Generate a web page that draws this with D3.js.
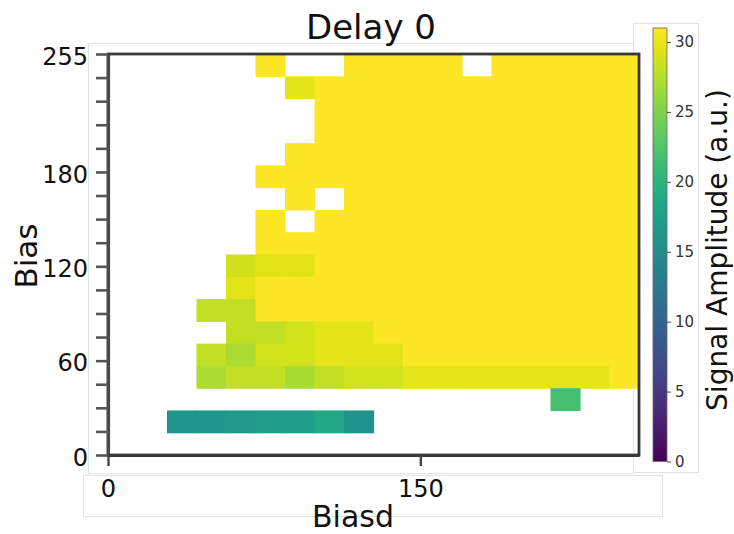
<!DOCTYPE html>
<html>
<head>
<meta charset="utf-8">
<script src="https://cdn.jsdelivr.net/npm/d3@7"></script>
<style>
  html, body { margin: 0; padding: 0; background: #fff; }
  svg { display: block; font-family: "DejaVu Sans", sans-serif; }
</style>
</head>
<body>
<svg id="chart" width="734" height="534"></svg>
<script>
// Biasd settings along the columns (left to right)
const biasd = [0, 15, 30, 45, 60, 75, 90, 105, 120, 135, 150, 165, 180, 195, 210, 225, 240, 255];
// Bias settings along the rows (top to bottom)
const bias = [255, 240, 225, 210, 195, 180, 165, 150, 135, 120, 105, 90, 75, 60, 45, 30, 15, 0];

// Signal amplitude per (bias, biasd); null = no signal recorded
const N = null;
const amplitude = [
  [N, N, N, N, N, 31, N, N, 31, 31, 31, 31, N, 31, 31, 31, 31, 31],
  [N, N, N, N, N, N, 29.7, 31, 31, 31, 31, 31, 31, 31, 31, 31, 31, 31],
  [N, N, N, N, N, N, N, 31, 31, 31, 31, 31, 31, 31, 31, 31, 31, 31],
  [N, N, N, N, N, N, N, 31, 31, 31, 31, 31, 31, 31, 31, 31, 31, 31],
  [N, N, N, N, N, N, 31, 31, 31, 31, 31, 31, 31, 31, 31, 31, 31, 31],
  [N, N, N, N, N, 31, 31, 31, 31, 31, 31, 31, 31, 31, 31, 31, 31, 31],
  [N, N, N, N, N, N, 31, N, 31, 31, 31, 31, 31, 31, 31, 31, 31, 31],
  [N, N, N, N, N, 31, N, 31, 31, 31, 31, 31, 31, 31, 31, 31, 31, 31],
  [N, N, N, N, N, 31, 31, 31, 31, 31, 31, 31, 31, 31, 31, 31, 31, 31],
  [N, N, N, N, 28.8, 29.6, 29.6, 31, 31, 31, 31, 31, 31, 31, 31, 31, 31, 31],
  [N, N, N, N, 29.6, 31, 31, 31, 31, 31, 31, 31, 31, 31, 31, 31, 31, 31],
  [N, N, N, 28.2, 28.2, 31, 31, 31, 31, 31, 31, 31, 31, 31, 31, 31, 31, 31],
  [N, N, N, N, 28.2, 28.2, 28.9, 29.7, 29.7, 31, 31, 31, 31, 31, 31, 31, 31, 31],
  [N, N, N, 28.2, 27.1, 28.9, 28.9, 29.7, 29.7, 29.7, 31, 31, 31, 31, 31, 31, 31, 31],
  [N, N, N, 27.1, 28.2, 28.2, 27.0, 28.2, 28.9, 28.9, 29.8, 29.8, 29.8, 29.8, 29.8, 29.8, 29.8, 31],
  [N, N, N, N, N, N, N, N, N, N, N, N, N, N, N, 21.9, N, N],
  [N, N, 16.2, 16.2, 16.5, 17.2, 17.2, 18.6, 15.8, N, N, N, N, N, N, N, N, N],
  [N, N, N, N, N, N, N, N, N, N, N, N, N, N, N, N, N, N]
];

const yTickLabels = [0, 60, 120, 180, 255];
const xTickLabels = [0, 150];
const colorTicks = [0, 5, 10, 15, 20, 25, 30];
const colorMax = 31;

const svg = d3.select("#chart");
svg.append("rect").attr("width", 734).attr("height", 534).attr("fill", "#fff");

// Light panel outlines around figure pieces
const faint = "#e3e3e3";
svg.append("rect").attr("x", 88.5).attr("y", 43.5).attr("width", 545).attr("height", 430)
  .attr("fill", "#fff").attr("stroke", faint);
svg.append("rect").attr("x", 633.5).attr("y", 23.5).attr("width", 65).attr("height", 449)
  .attr("fill", "#fff").attr("stroke", faint);
svg.append("rect").attr("x", 83.5).attr("y", 475.5).attr("width", 579).attr("height", 41)
  .attr("fill", "#fff").attr("stroke", faint);

const plot = { left: 108, right: 639, top: 54, bottom: 455 };
const x = d3.scaleLinear().domain([0, 255]).range([plot.left, plot.right]);
const y = d3.scaleLinear().domain([0, 255]).range([plot.bottom, plot.top]);
const xBand = d3.scaleBand().domain(biasd).range([x(0), x(255)]);
const yBand = d3.scaleBand().domain(bias).range([y(255), y(0)]);
const color = d3.scaleSequential(d3.interpolateViridis).domain([0, colorMax]).clamp(true);

const cells = [];
amplitude.forEach((row, r) => row.forEach((v, c) => {
  if (v !== null) cells.push({ b: bias[r], bd: biasd[c], v });
}));

svg.append("g").selectAll("rect").data(cells).join("rect")
  .attr("x", d => xBand(d.bd))
  .attr("y", d => yBand(d.b))
  .attr("width", xBand.bandwidth() + 0.6)
  .attr("height", yBand.bandwidth() + 0.6)
  .attr("fill", d => color(d.v));

// Frame
svg.append("rect")
  .attr("x", plot.left).attr("y", plot.top)
  .attr("width", plot.right - plot.left).attr("height", plot.bottom - plot.top)
  .attr("fill", "none").attr("stroke", "#383838").attr("stroke-width", 2.8);

// Y axis: minor ticks every 15, labels at selected values
const yAxis = d3.axisLeft(y)
  .tickValues(d3.range(0, 256, 15))
  .tickSize(12).tickSizeOuter(0).tickPadding(8)
  .tickFormat(d => yTickLabels.includes(d) ? d : "");
const gy = svg.append("g").attr("transform", `translate(${plot.left},0)`).call(yAxis);
gy.select(".domain").attr("stroke", "#4a4a4a").attr("stroke-width", 3.2);
gy.selectAll(".tick line").attr("stroke", "#555").attr("stroke-width", 2.6);
gy.selectAll(".tick text").attr("font-size", 24).attr("fill", "#111")
  .attr("font-family", "DejaVu Sans").attr("dy", "0.42em");

// X axis
const xAxis = d3.axisBottom(x).tickValues(xTickLabels)
  .tickSize(11).tickSizeOuter(0).tickPadding(14);
const gx = svg.append("g").attr("transform", `translate(0,${plot.bottom})`).call(xAxis);
gx.select(".domain").attr("stroke", "#383838").attr("stroke-width", 2.8);
gx.selectAll(".tick line").attr("stroke", "#444").attr("stroke-width", 2.4);
gx.selectAll(".tick text").attr("font-size", 24).attr("fill", "#111")
  .attr("font-family", "DejaVu Sans");

// Titles
svg.append("text").attr("x", 371).attr("y", 39).attr("text-anchor", "middle")
  .attr("font-size", 34).attr("fill", "#111").text("Delay 0");
svg.append("text").attr("transform", "translate(37,256) rotate(-90)")
  .attr("text-anchor", "middle").attr("font-size", 31).attr("fill", "#111").text("Bias");
svg.append("text").attr("x", 353).attr("y", 527).attr("text-anchor", "middle")
  .attr("font-size", 30).attr("fill", "#111").text("Biasd");

// Colorbar
const cb = { x: 653, w: 14 };
const cbY = d3.scaleLinear().domain([0, colorMax]).range([461.5, 28]);
const defs = svg.append("defs");
const grad = defs.append("linearGradient").attr("id", "cbgrad")
  .attr("x1", 0).attr("y1", 1).attr("x2", 0).attr("y2", 0);
d3.range(0, 1.0001, 0.05).forEach(t => {
  grad.append("stop").attr("offset", t).attr("stop-color", color(t * colorMax));
});
svg.append("rect").attr("x", cb.x).attr("y", cbY(colorMax))
  .attr("width", cb.w).attr("height", cbY(0) - cbY(colorMax))
  .attr("fill", "url(#cbgrad)").attr("stroke", "#666").attr("stroke-width", 0.8);
const cAxis = d3.axisRight(cbY).tickValues(colorTicks).tickSize(4).tickPadding(4);
const gc = svg.append("g").attr("transform", `translate(${cb.x + cb.w},0)`).call(cAxis);
gc.select(".domain").remove();
gc.selectAll(".tick line").attr("stroke", "#444").attr("stroke-width", 1);
gc.selectAll(".tick text").attr("font-size", 15).attr("fill", "#333")
  .attr("font-family", "DejaVu Sans");
svg.append("text").attr("transform", "translate(727,250) rotate(-90)")
  .attr("text-anchor", "middle").attr("font-size", 28).attr("fill", "#111")
  .text("Signal Amplitude (a.u.)");
</script>
</body>
</html>
